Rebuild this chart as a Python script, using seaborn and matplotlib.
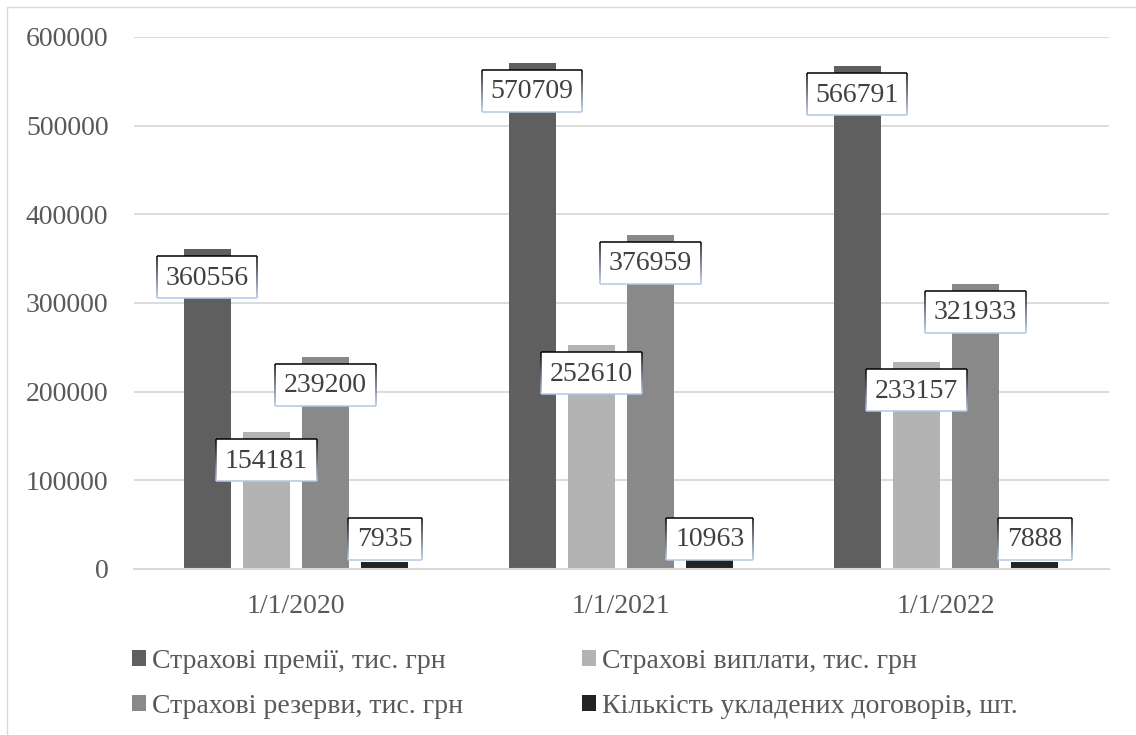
import numpy as np
import pandas as pd
import matplotlib
matplotlib.use("Agg")
import matplotlib.pyplot as plt
import matplotlib.transforms as mtransforms
from matplotlib import font_manager
from matplotlib.patches import Rectangle
from matplotlib.collections import LineCollection
from matplotlib.colors import to_rgb
import seaborn as sns

# ---- data ----
dates = ["1/1/2020", "1/1/2021", "1/1/2022"]
series_names = [
    "Страхові премії, тис. грн",
    "Страхові виплати, тис. грн",
    "Страхові резерви, тис. грн",
    "Кількість укладених договорів, шт.",
]
premiums = [360556, 570709, 566791]
payments = [154181, 252610, 233157]
reserves = [239200, 376959, 321933]
contracts = [7935, 10963, 7888]
colors = ["#5f5f5f", "#b3b3b3", "#898989", "#232323"]
yticks = [0, 100000, 200000, 300000, 400000, 500000, 600000]

values = [premiums, payments, reserves, contracts]
df = pd.DataFrame(
    [(d, s, v) for s, vals in zip(series_names, values) for d, v in zip(dates, vals)],
    columns=["date", "series", "value"],
)

sns.set_theme(style="white")

# pick an installed Times-like serif face
names = sorted({f.name for f in font_manager.fontManager.ttflist})
serif = next((n for n in ["Liberation Serif", "Times New Roman", "Nimbus Roman",
                          "DejaVu Serif"] if n in names), "DejaVu Serif")
plt.rcParams["font.family"] = "serif"
plt.rcParams["font.serif"] = [serif, "DejaVu Serif"]

W, H, DPI = 1136, 735, 100
fig = plt.figure(figsize=(W / DPI, H / DPI), dpi=DPI)
ax_left, ax_right, ax_top, ax_bottom = 133.5, 1108.5, 37, 569
ax = fig.add_axes([ax_left / W, 1 - ax_bottom / H,
                   (ax_right - ax_left) / W, (ax_bottom - ax_top) / H])

sns.barplot(data=df, x="date", y="value", hue="series", hue_order=series_names,
            palette=colors, saturation=1, width=0.73, gap=0.207,
            linewidth=0, ax=ax, legend=True)

ax.set_ylim(0, 600000)
ax.set_xlim(-0.5, len(dates) - 0.5)
ax.set_yticks(yticks)
ax.set_yticklabels([str(t) for t in yticks])
ax.set_xlabel("")
ax.set_ylabel("")
ax.yaxis.grid(True, color="#d9d9d9", linewidth=1.3)
ax.set_axisbelow(True)
for side in ["top", "right", "left"]:
    ax.spines[side].set_visible(False)
ax.spines["bottom"].set_color("#d9d9d9")
ax.spines["bottom"].set_linewidth(1.5)
ax.tick_params(axis="y", length=0, pad=18, labelsize=20, labelcolor="#595959")
ax.tick_params(axis="x", length=0, pad=18, labelsize=20, labelcolor="#595959")

# ---- value labels in boxes with a gradient border ----
ident = mtransforms.IdentityTransform()
top_col = np.array(to_rgb("#000000"))
bot_col = np.array(to_rgb("#b4c7e7"))
zero_px = ax.transData.transform((0, 0))[1]
box_h = 42
for cont, vals in zip(ax.containers, values):
    for bar, v in zip(cont, vals):
        xc = bar.get_x() + bar.get_width() / 2
        px, py = ax.transData.transform((xc, bar.get_height()))
        label = str(v)
        box_w = 13.8 * len(label) + 18
        # box top sits just inside the bar end, but stays clear of the axis line
        top = max(py - 7, zero_px + 9 + box_h)
        bottom = top - box_h
        left = px - box_w / 2
        right = px + box_w / 2
        ax.add_patch(Rectangle((left, bottom), box_w, box_h, transform=ident,
                               facecolor="white", edgecolor="none",
                               clip_on=False, zorder=5))
        n = 24
        ys = np.linspace(top, bottom, n + 1)
        segs, cols = [], []
        for xs in (left, right):
            for i in range(n):
                segs.append([(xs, ys[i]), (xs, ys[i + 1])])
                t = (i + 0.5) / n
                cols.append(tuple(top_col * (1 - t) + bot_col * t))
        segs.append([(left, top), (right, top)])
        cols.append(tuple(top_col))
        segs.append([(left, bottom), (right, bottom)])
        cols.append(tuple(bot_col))
        lc = LineCollection(segs, colors=cols, linewidths=1.1, transform=ident,
                            clip_on=False, zorder=6)
        ax.add_collection(lc, autolim=False)
        ax.text(px, (top + bottom) / 2 - 1, label, transform=ident, ha="center",
                va="center", fontsize=20, color="#404040", zorder=7, clip_on=False)

ax.set_ylim(0, 600000)
ax.set_xlim(-0.5, len(dates) - 0.5)

# ---- legend ----
handles, labels = ax.get_legend_handles_labels()
ax.get_legend().remove()
order = [0, 2, 1, 3]
fig.legend([handles[i] for i in order], [labels[i] for i in order],
           ncol=2, loc="upper left", bbox_to_anchor=(132 / W, 1 - 649 / H),
           frameon=False, fontsize=20, labelcolor="#595959",
           borderpad=0, borderaxespad=0,
           handlelength=0.5, handleheight=0.5, handletextpad=0.22,
           columnspacing=4.28, labelspacing=0.72)

# ---- chart frame ----
fig.add_artist(Rectangle((7, -10), W + 20, H - 7 + 10, transform=ident,
                         facecolor="none", edgecolor="#d9d9d9", linewidth=1.0))

fig.savefig("out.png", dpi=DPI)
